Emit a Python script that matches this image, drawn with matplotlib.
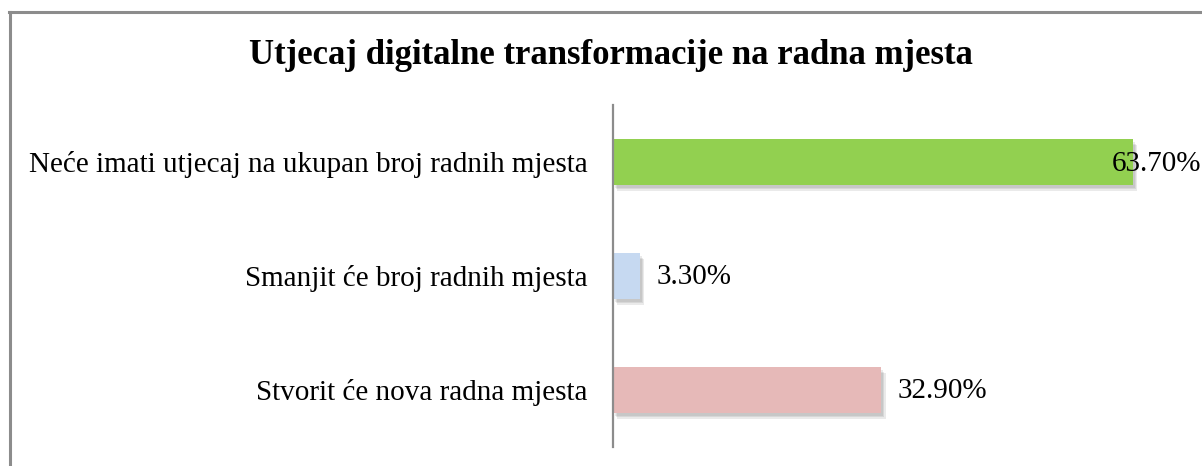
import numpy as np
import matplotlib.pyplot as plt
from matplotlib import patheffects as pe
from matplotlib.lines import Line2D

categories = ['Stvorit će nova radna mjesta',
              'Smanjit će broj radnih mjesta',
              'Neće imati utjecaj na ukupan broj radnih mjesta']
values = [32.9, 3.3, 63.7]
colors = ['#E6B9B8', '#C6D9F1', '#92D050']
title = 'Utjecaj digitalne transformacije na radna mjesta'

plt.rcParams['font.family'] = ['Liberation Serif', 'DejaVu Serif']

W, H = 1202, 466
fig = plt.figure(figsize=(W / 100, H / 100), dpi=100)
ax = fig.add_axes([613 / W, (H - 447) / H, (1184 - 613) / W, (447 - 105) / H])

y = np.arange(len(categories))
# soft drop shadow, a few layers
shadow = [pe.SimplePatchShadow(offset=(o, -1.5 * o), shadow_rgbFace='#555555', alpha=0.12)
          for o in (3.0, 2.2, 1.5)] + [pe.Normal()]
bars = ax.barh(y, values, height=0.4, color=colors, zorder=2)
for b in bars:
    b.set_path_effects(shadow)

ax.set_xlim(0, 70)
ax.set_ylim(-0.5, 2.5)
ax.set_yticks(y)
ax.set_yticklabels(categories, fontsize=21)
ax.tick_params(axis='y', length=0, pad=18)
ax.set_xticks([])
for s in ['top', 'right', 'bottom']:
    ax.spines[s].set_visible(False)
ax.spines['left'].set_color('#8c8c8c')
ax.spines['left'].set_linewidth(1.6)
ax.spines['left'].set_zorder(3)

for yi, v in zip(y, values):
    lbl = '%.2f%%' % v
    if v > 60:
        fig.text(1201 / W, ax.transData.transform((0, yi))[1] / H - 2 / H, lbl,
                 ha='right', va='center', fontsize=21)
    else:
        ax.annotate(lbl, (v, yi), xytext=(12, -1), textcoords='offset points',
                    ha='left', va='center', fontsize=21)

fig.text(611 / W, (H - 55) / H, title, ha='center', va='center',
         fontsize=25, fontweight='bold')

# outer frame (cut off at right and bottom)
fig.add_artist(Line2D([9.5 / W, 9.5 / W], [0, (H - 11.5) / H], color='#8c8c8c', lw=2.2))
fig.add_artist(Line2D([8.5 / W, 1], [(H - 11.5) / H, (H - 11.5) / H], color='#8c8c8c', lw=2.2))

fig.savefig('out.png', dpi=100)
